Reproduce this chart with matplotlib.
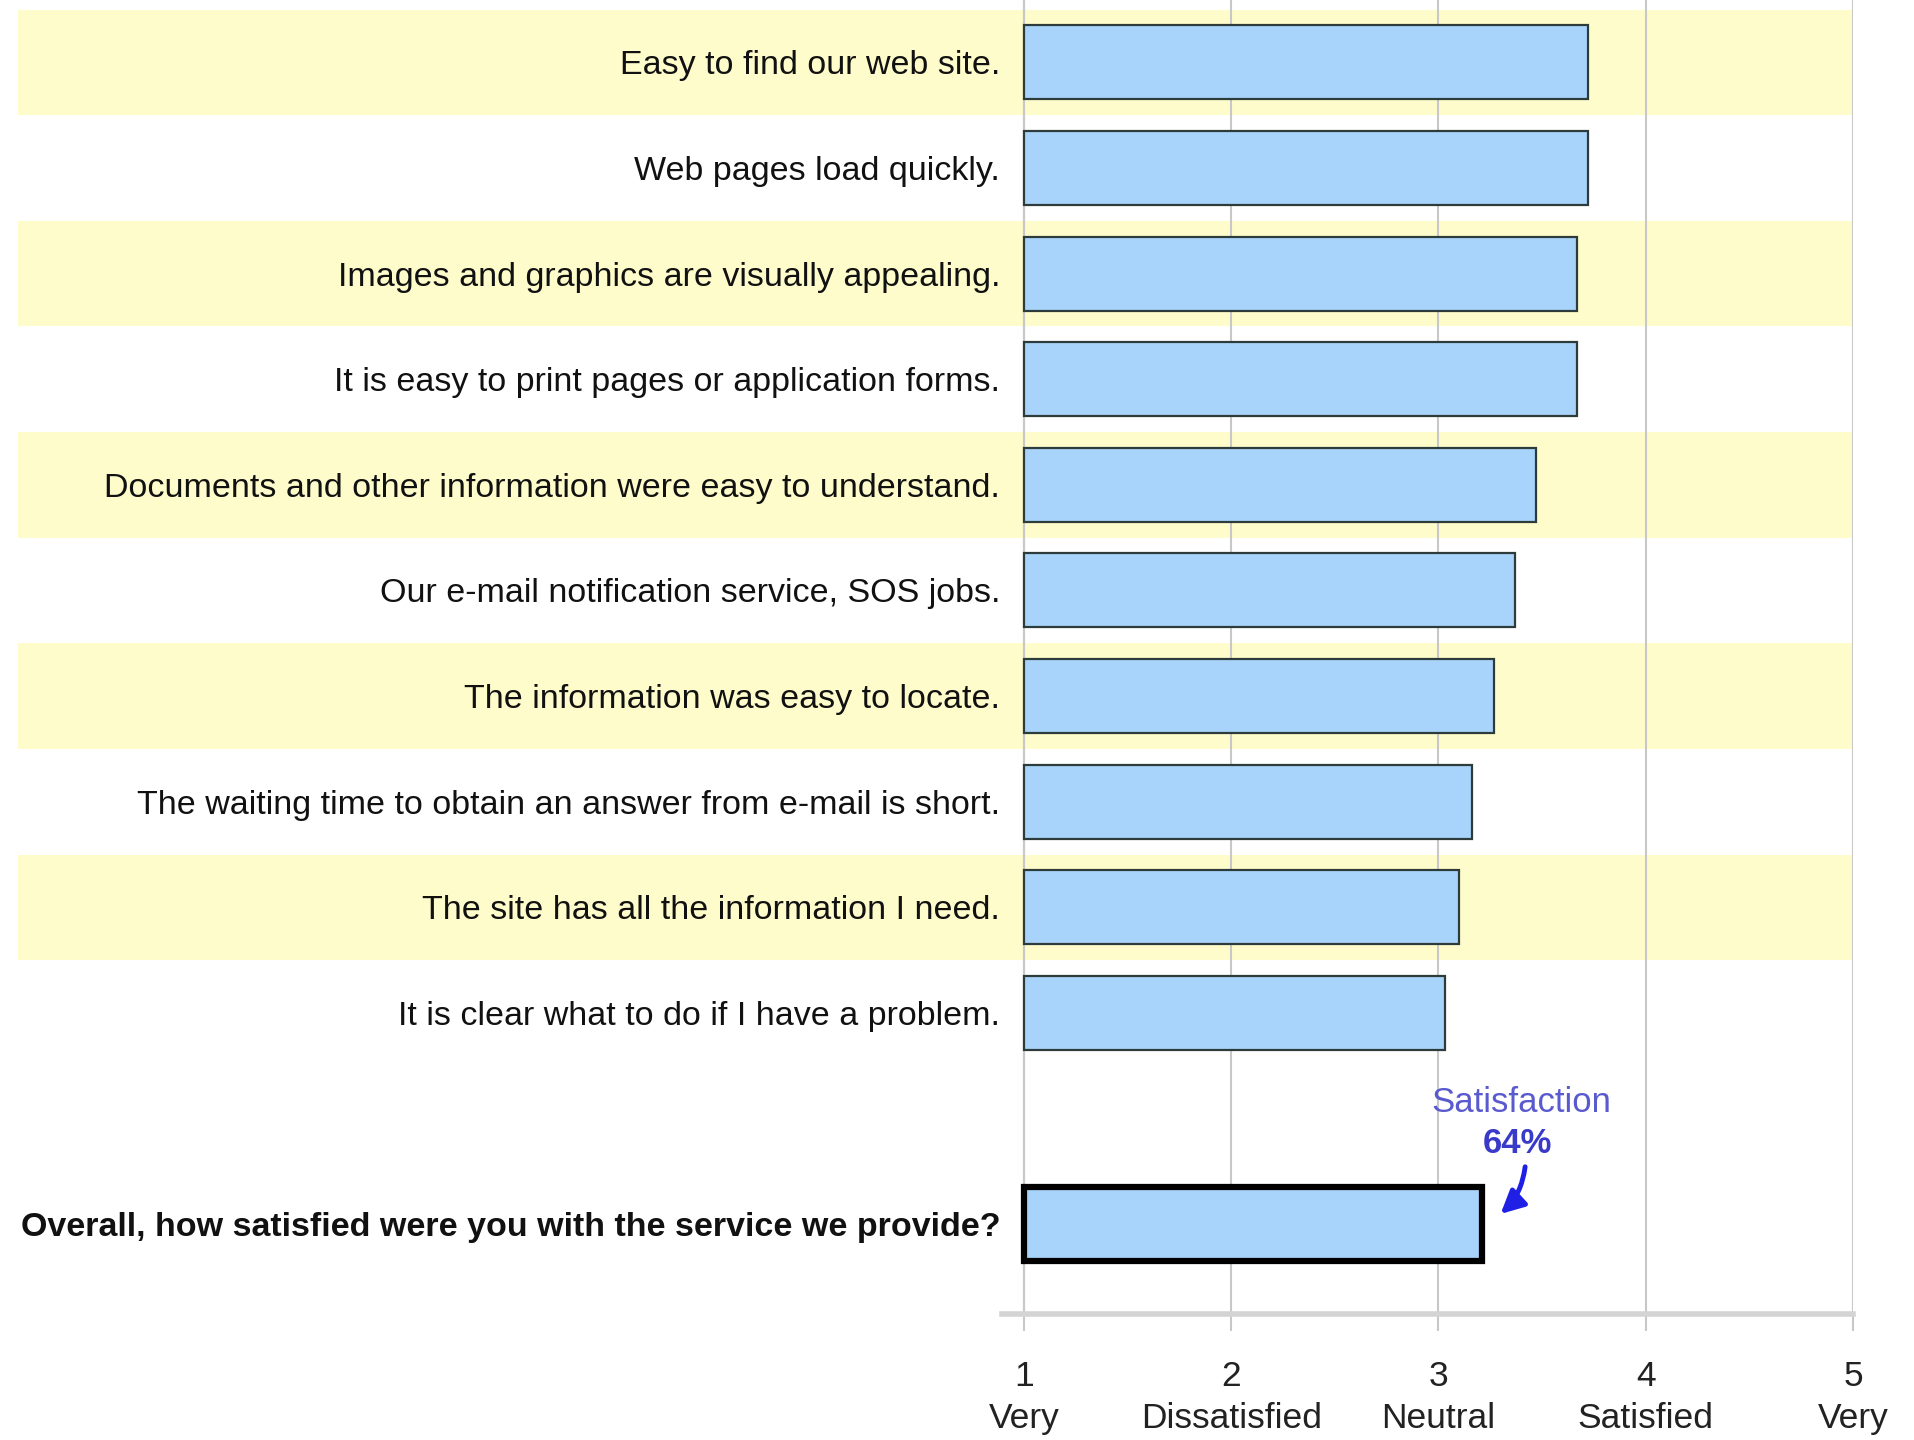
import matplotlib
matplotlib.use("Agg")
import matplotlib.pyplot as plt

# survey items, top to bottom
items = [
    "Easy to find our web site.",
    "Web pages load quickly.",
    "Images and graphics are visually appealing.",
    "It is easy to print pages or application forms.",
    "Documents and other information were easy to understand.",
    "Our e-mail notification service, SOS jobs.",
    "The information was easy to locate.",
    "The waiting time to obtain an answer from e-mail is short.",
    "The site has all the information I need.",
    "It is clear what to do if I have a problem.",
]
scores = [3.72, 3.72, 3.67, 3.67, 3.47, 3.37, 3.27, 3.16, 3.10, 3.03]

overall_label = "Overall, how satisfied were you with the service we provide?"
overall_score = 3.21
satisfaction_text = "Satisfaction"
satisfaction_pct = "64%"

scale_ticks = [1, 2, 3, 4, 5]
scale_labels = ["1\nVery", "2\nDissatisfied", "3\nNeutral", "4\nSatisfied", "5\nVery"]

plt.rcParams["font.family"] = ["Liberation Sans", "DejaVu Sans"]

BAR = "#A8D4FC"
BAND = "#FFFCCB"
GRID = "#C8C8C8"

fig = plt.figure(figsize=(19.15, 14.4), dpi=100)
ax = fig.add_axes([0.0094, 0.0875, 0.9582, 0.9125])

# y axis sits on the value 1 line; set before tick labels (it resets ticks)
for s in ["top", "right"]:
    ax.spines[s].set_visible(False)
ax.spines["left"].set_position(("data", 1))
ax.spines["left"].set_color(GRID)
ax.spines["left"].set_linewidth(1.5)
ax.spines["bottom"].set_bounds(0.894, 5)
ax.spines["bottom"].set_color("#D4D4D4")
ax.spines["bottom"].set_linewidth(4)

n = len(items)
ypos = list(range(n))
overall_pos = n + 1

# alternating yellow bands
for i in ypos[::2]:
    ax.axhspan(i - 0.5, i + 0.5, color=BAND, zorder=0, lw=0)

ax.barh(ypos, [v - 1 for v in scores], left=1, height=0.7,
        color=BAR, edgecolor="#2E3B3B", lw=1.6, zorder=3)
ax.barh([overall_pos], [overall_score - 1], left=1, height=0.7,
        color=BAR, edgecolor="black", lw=4.5, zorder=3)

ax.set_xlim(-3.853, 5)
ax.set_ylim(11.85, -0.59)

ax.set_xticks(scale_ticks)
ax.set_xticklabels(scale_labels, fontsize=25.5, color="#222222", linespacing=1.35)
ax.grid(axis="x", color=GRID, lw=1.5, zorder=1)
ax.set_axisbelow(True)
ax.tick_params(axis="x", length=12, width=1.5, color=GRID, pad=21)

ax.set_yticks(ypos + [overall_pos])
ax.set_yticklabels(items + [overall_label], fontsize=24.5, color="#111111")
ax.get_yticklabels()[-1].set_fontweight("bold")
ax.tick_params(axis="y", length=0, pad=17)

# satisfaction callout above overall bar
ax.text(overall_score + 0.19, overall_pos - 1.15, satisfaction_text,
        fontsize=25, color="#5A5ACF", ha="center", va="center", zorder=5)
ax.text(overall_score + 0.17, overall_pos - 0.76, satisfaction_pct,
        fontsize=25, color="#3A3AC8", fontweight="bold", ha="center", va="center", zorder=5)
ax.annotate("", xy=(overall_score + 0.08, overall_pos - 0.08),
            xytext=(overall_score + 0.21, overall_pos - 0.57),
            arrowprops=dict(arrowstyle="-|>", color="#1F1FE6", lw=3.5,
                            mutation_scale=35, connectionstyle="arc3,rad=-0.2"),
            zorder=5)

fig.savefig("out.png", dpi=100)
